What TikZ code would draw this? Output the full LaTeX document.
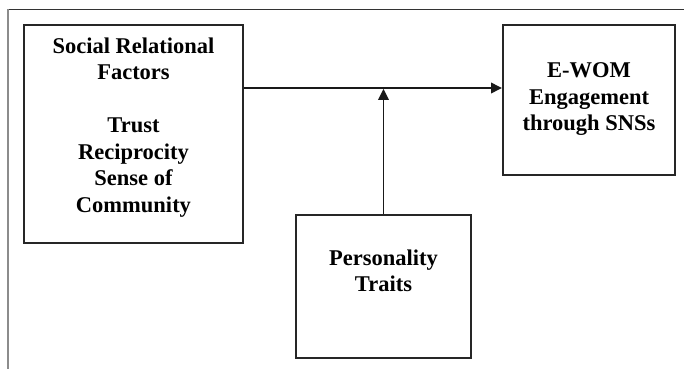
\documentclass[tikz,border=0pt]{standalone}
\usepackage{fontspec}
\setmainfont{Liberation Serif}
\usepackage{tikz}
\usetikzlibrary{arrows.meta, positioning, calc}

\begin{document}
\begin{tikzpicture}[
  x=1pt, y=-1pt,
  font=\fontsize{22.5}{26.5}\selectfont\bfseries,
  box/.style   ={draw=black!85, line width=2pt, inner sep=0pt},
  txt/.style   ={align=center, inner sep=0pt, anchor=north},
  arr/.style   ={-{Triangle[length=11pt, width=10.5pt]}, line width=1.9pt, black!90},
  frame/.style ={line width=1pt},
]
\useasboundingbox (0,0) rectangle (684,369);

% ================= page frame =================
\draw[frame, black!80] (7.5,9.5) -- (684,9.5);
\draw[frame, black!45, line width=1.4pt] (8,9.5) -- (8,369);

% ================= the three boxes =================
\node[box, minimum width=219pt, minimum height=218pt] (srf) at (133.5,134) {};
\node[txt] (srftext) at (133.5,37.5)
  {Social Relational\\Factors\\[26.5pt]Trust\\Reciprocity\\Sense of\\Community};

\node[box, minimum width=172pt, minimum height=150pt] (ewom) at (589,100) {};
\node[txt] (ewomtext) at (589,62.5) {E-WOM\\Engagement\\through SNSs};

\node[box, minimum width=175pt, minimum height=143pt] (pers) at (383.5,286.5) {};
\node[txt] (perstext) at (383.5,249.5) {Personality\\Traits};

% ================= connectors =================
\coordinate (mid) at (383.5,88);
\draw[arr] (srf.east |- mid) -- (ewom.west |- mid);
\draw[arr, shorten >=0.9pt] (pers.north) -- (mid);

\end{tikzpicture}
\end{document}
